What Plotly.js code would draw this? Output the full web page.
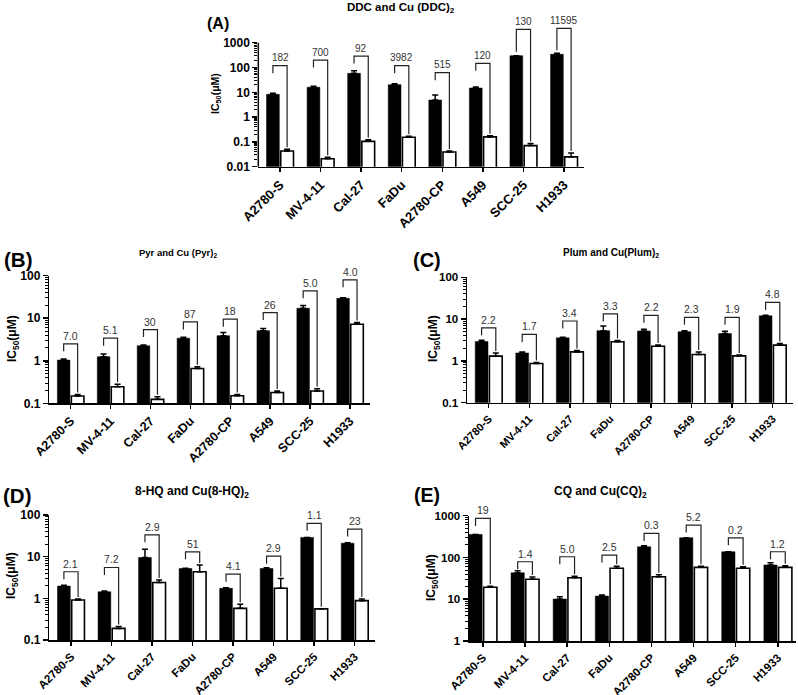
<!DOCTYPE html>
<html><head><meta charset="utf-8">
<script src="https://cdn.plot.ly/plotly-3.0.1.min.js"></script>
<style>html,body{margin:0;padding:0;background:#fff}#chart{width:798px;height:695px}</style>
</head><body><div id="chart"></div>
<script>
const cells = ['A2780-S','MV-4-11','Cal-27','FaDu','A2780-CP','A549','SCC-25','H1933'];

// (A) DDC and Cu(DDC)2
const ligandA     = [8.3, 16, 58, 20.3, 4.9, 14.9, 300, 340];
const ligandErrA  = [0.8, 1.5, 16, 1.9, 2.9, 1.4, 0, 32];
const complexA    = [0.043, 0.021, 0.105, 0.155, 0.039, 0.159, 0.071, 0.025];
const complexErrA = [0.007, 0.003, 0.018, 0.015, 0.004, 0.019, 0.016, 0.011];
const ratioA      = ['182','700','92','3982','515','120','130','11595'];
const bracketA    = [118, 200, 290, 118, 62, 148, 3470, 3800];
const leftEndA    = [null, null, null, null, null, null, 436, 500];

// (B) Pyr and Cu(Pyr)2
const ligandB     = [1.04, 1.25, 2.26, 3.4, 3.9, 5.1, 17.2, 29.5];
const ligandErrB  = [0.06, 0.2, 0.09, 0.16, 0.7, 0.6, 2.6, 1.0];
const complexB    = [0.148, 0.245, 0.124, 0.66, 0.15, 0.18, 0.195, 7.2];
const complexErrB = [0.014, 0.035, 0.019, 0.06, 0.012, 0.015, 0.025, 0.7];
const ratioB      = ['7.0','5.1','30','87','18','26','5.0','4.0'];
const bracketB    = [2.5, 3.4, 5.4, 8.2, 9.5, 13.6, 44, 80];

// (C) Plum and Cu(Plum)2
const ligandC     = [2.9, 1.55, 3.56, 5.3, 5.2, 5.0, 4.5, 12.0];
const ligandErrC  = [0.2, 0.09, 0.14, 1.5, 0.5, 0.3, 0.6, 0.3];
const complexC    = [1.30, 0.87, 1.64, 2.86, 2.25, 1.42, 1.32, 2.38];
const complexErrC = [0.25, 0.04, 0.14, 0.23, 0.15, 0.22, 0.07, 0.22];
const ratioC      = ['2.2','1.7','3.4','3.3','2.2','2.3','1.9','4.8'];
const bracketC    = [6.2, 4.3, 9.0, 13.3, 12.3, 11, 11, 25];

// (D) 8-HQ and Cu(8-HQ)2
const ligandD     = [1.97, 1.44, 9.6, 5.2, 1.74, 5.2, 29, 21];
const ligandErrD  = [0.08, 0.06, 5.4, 0.1, 0.06, 0.2, 0, 0.5];
const complexD    = [0.91, 0.19, 2.4, 4.35, 0.575, 1.74, 0.56, 0.88];
const complexErrD = [0.05, 0.02, 0.35, 1.95, 0.145, 1.26, 0, 0.08];
const ratioD      = ['2.1','7.2','2.9','51','4.1','2.9','1.1','23'];
const bracketD    = [4.35, 5.5, 33.5, 13.1, 3.8, 10.3, 63, 46];

// (E) CQ and Cu(CQ)2
const ligandE     = [357, 43, 10.1, 11.9, 180, 296, 137, 66];
const ligandErrE  = [0, 5, 1.4, 0.7, 10, 0, 0, 9];
const complexE    = [19.3, 30, 32.6, 55, 34.6, 58, 55, 58];
const complexErrE = [1.1, 4, 2.8, 7, 4, 4, 5, 5];
const ratioE      = ['19','1.4','5.0','2.5','0.3','5.2','0.2','1.2'];
const bracketE    = [861, 79, 104, 114, 376, 596, 296, 137];

const tags   = ['(A)','(B)','(C)','(D)','(E)'];
const titles = ['DDC and Cu (DDC)<sub>2</sub>','Pyr and Cu (Pyr)<sub>2</sub>','Plum and Cu(Plum)<sub>2</sub>',
                '8-HQ and Cu(8-HQ)<sub>2</sub>','CQ and Cu(CQ)<sub>2</sub>'];

const panels = [
  {lig: ligandA, ligErr: ligandErrA, cx: complexA, cxErr: complexErrA, ratio: ratioA, top: bracketA, left: leftEndA},
  {lig: ligandB, ligErr: ligandErrB, cx: complexB, cxErr: complexErrB, ratio: ratioB, top: bracketB},
  {lig: ligandC, ligErr: ligandErrC, cx: complexC, cxErr: complexErrC, ratio: ratioC, top: bracketC},
  {lig: ligandD, ligErr: ligandErrD, cx: complexD, cxErr: complexErrD, ratio: ratioD, top: bracketD},
  {lig: ligandE, ligErr: ligandErrE, cx: complexE, cxErr: complexErrE, ratio: ratioE, top: bracketE},
];

// layout geometry (pixels) and per-panel font sizes
const W = 798, H = 695;
const geo = [
  {left:258.3, right:584.3, bottom:166.7, axisTop:42.7, plotTop:22, lo:-2, hi:3, xr:[-0.535,7.5],
   tag:[217.5,23.3], title:[401,7.5], ytitle:[216,94], fs:{tag:16, title:11.5, cat:13, ytick:12, ytitle:10.5, ratio:10}},
  {left:49.3, right:370, bottom:403.3, axisTop:275.7, lo:-1, hi:2, xr:[-0.535,7.5],
   tag:[18,259], title:[177.5,253.3], ytitle:[13,339], fs:{tag:20.5, title:9.5, cat:12.5, ytick:12, ytitle:12, ratio:10.5}},
  {left:467, right:793, bottom:402.7, axisTop:277.3, lo:-1, hi:2, xr:[-0.535,7.5],
   tag:[427,260], title:[610.5,253.3], ytitle:[434,339], fs:{tag:20, title:10, cat:11, ytick:11.5, ytitle:12, ratio:10.5}},
  {left:49.3, right:375, bottom:640, axisTop:515, lo:-1, hi:2, xr:[-0.535,7.5],
   tag:[17,495.5], title:[192,492.3], ytitle:[12,576], fs:{tag:20.5, title:12, cat:11.5, ytick:12, ytitle:12, ratio:10.5}},
  {left:469, right:796, bottom:641, axisTop:515.7, lo:0, hi:3, xr:[-0.33,7.43],
   tag:[427,495], title:[600,492.3], ytitle:[432,578], fs:{tag:19.5, title:12, cat:11.5, ytick:11.5, ytitle:12, ratio:10.5}},
];

const FONT = 'Arial, "Liberation Sans", Helvetica, sans-serif';
const BARGAP = 0.3, GROUPGAP = 0.1;
const D = (1 - BARGAP) / 4;
const LEG = 7.5, GAP = 2;

const traces = [], annotations = [], shapes = [];
const layout = {
  width: W, height: H, margin: {l:0, r:0, t:0, b:0},
  paper_bgcolor: '#fff', plot_bgcolor: 'rgba(0,0,0,0)',
  showlegend: false, barmode: 'group', bargap: BARGAP, bargroupgap: GROUPGAP,
  hovermode: false, font: {family: FONT, color: '#000'}
};

panels.forEach((p, k) => {
  const g = geo[k];
  const n = k === 0 ? '' : String(k + 1);
  const xa = 'x' + n, ya = 'y' + n;
  const ppd = (g.bottom - g.axisTop) / (g.hi - g.lo);
  const plotTop = g.plotTop !== undefined ? g.plotTop : g.axisTop;
  const rTop = g.hi + (g.axisTop - plotTop) / ppd;
  const xs = cells.map((_, i) => i);
  const zeros = cells.map(() => 0);

  traces.push({type:'bar', x: xs, y: p.lig, xaxis: xa, yaxis: ya,
    marker: {color:'#000', line:{color:'#000', width:0.5}},
    error_y: {type:'data', symmetric:false, array: p.ligErr, arrayminus: zeros, color:'#000', thickness:1.5, width:3}});
  traces.push({type:'bar', x: xs, y: p.cx, xaxis: xa, yaxis: ya,
    marker: {color:'#fff', line:{color:'#000', width:1.6}},
    error_y: {type:'data', symmetric:false, array: p.cxErr, arrayminus: zeros, color:'#000', thickness:1.5, width:3}});

  const bx = [], by = [];
  xs.forEach(i => {
    const t = p.top[i];
    const lb = (p.left && p.left[i] != null) ? p.left[i] : Math.pow(10, Math.log10(t) - LEG / ppd);
    const rb = Math.pow(10, Math.log10(p.cx[i] + p.cxErr[i]) + GAP / ppd);
    bx.push(i - D, i - D, i + D, i + D, null);
    by.push(lb, t, t, rb, null);
    annotations.push({xref: xa, yref: ya, x: i, y: Math.log10(t), text: p.ratio[i], showarrow: false,
      yanchor: 'middle', yshift: 8, font: {family: FONT, size: g.fs.ratio, color: '#333'}});
  });
  traces.push({type:'scatter', mode:'lines', x: bx, y: by, xaxis: xa, yaxis: ya,
    line: {color:'#222', width:1.2}, hoverinfo:'skip', cliponaxis:false});

  const majors = [], majorText = [], minors = [];
  for (let e = g.lo; e <= g.hi; e++) {
    const v = Math.pow(10, e);
    majors.push(v); majorText.push(String(v));
    if (e < g.hi) for (let m = 2; m <= 9; m++) minors.push(m * v);
  }

  layout['xaxis' + n] = {
    domain: [g.left / W, g.right / W], anchor: ya, range: g.xr,
    tickmode: 'array', tickvals: xs, ticktext: cells, tickangle: -45,
    ticks: 'outside', ticklen: 4, tickwidth: 1.5, tickcolor: '#000', ticklabelstandoff: 0,
    showline: true, linewidth: 1.5, linecolor: '#000', showgrid: false, zeroline: false,
    tickfont: {family: FONT, size: g.fs.cat, weight: 'bold', color: '#000'}, fixedrange: true
  };
  layout['yaxis' + n] = {
    domain: [1 - g.bottom / H, 1 - plotTop / H], anchor: xa, type: 'log', range: [g.lo, rTop],
    tickmode: 'array', tickvals: majors, ticktext: majorText,
    ticks: 'outside', ticklen: 5, tickwidth: 1.5, tickcolor: '#000',
    minor: {tickmode: 'array', tickvals: minors, ticks: 'outside', ticklen: 3, tickwidth: 1, tickcolor: '#000'},
    showline: k !== 0, linewidth: 1.5, linecolor: '#000', showgrid: false, zeroline: false,
    tickfont: {family: FONT, size: g.fs.ytick, weight: 'bold', color: '#000'}, fixedrange: true
  };
  if (k === 0) {
    shapes.push({type:'line', xref: xa + ' domain', x0: 0, x1: 0, yref: ya,
      y0: Math.pow(10, g.lo), y1: Math.pow(10, g.hi), line: {color:'#000', width:1.5}});
  }

  annotations.push({xref:'paper', yref:'paper', x: g.tag[0] / W, y: 1 - g.tag[1] / H,
    text: '<b>' + tags[k] + '</b>', showarrow:false, xanchor:'center', yanchor:'middle',
    font: {family: FONT, size: g.fs.tag, color:'#000'}});
  annotations.push({xref:'paper', yref:'paper', x: g.title[0] / W, y: 1 - g.title[1] / H,
    text: '<b>' + titles[k] + '</b>', showarrow:false, xanchor:'center', yanchor:'middle',
    font: {family: FONT, size: g.fs.title, color:'#000'}});
  annotations.push({xref:'paper', yref:'paper', x: g.ytitle[0] / W, y: 1 - g.ytitle[1] / H,
    text: '<b>IC<sub>50</sub>(μM)</b>', showarrow:false, textangle: -90, xanchor:'center', yanchor:'middle',
    font: {family: FONT, size: g.fs.ytitle, color:'#000'}});
});

layout.annotations = annotations;
layout.shapes = shapes;
Plotly.newPlot('chart', traces, layout, {staticPlot: true, displayModeBar: false});
</script>
</body></html>
